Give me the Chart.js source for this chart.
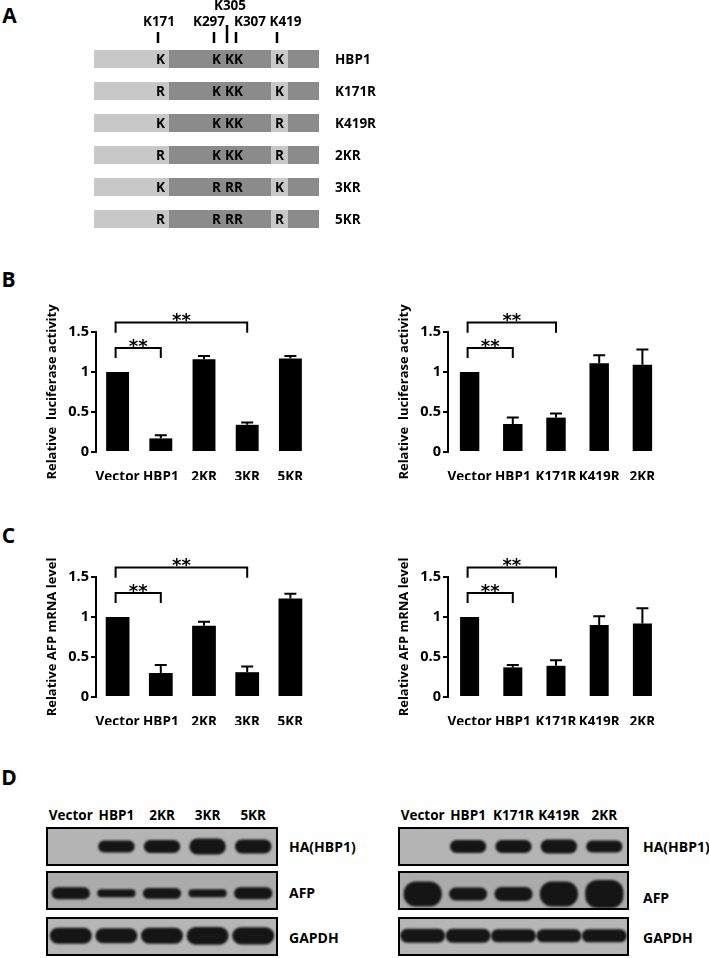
<!DOCTYPE html>
<html>
<head>
<meta charset="utf-8">
<script src="https://cdn.jsdelivr.net/npm/chart.js@4.4.1/dist/chart.umd.min.js"></script>
<style>
body { margin:0; background:#fff; font-family: "Open Sans", "Liberation Sans", sans-serif; font-weight:bold; color:#000; }
#page { position:relative; width:709px; height:958px; overflow:hidden; }
#page canvas, .t, .box { position:absolute; }
.t { white-space:nowrap; transform:translate(-50%,-50%); line-height:1; font-size:14px; }
.t.l { transform:translate(0,-50%); }
.panel { font-size:21px; }
.box { border:2px solid #000; box-sizing:border-box; }
</style>
</head>
<body>
<div id="page"></div>
<script>
// SCHEMATIC DATA (panel A)

const constructs = ["HBP1", "K171R", "K419R", "2KR", "3KR", "5KR"];
const sites = ["K171", "K297", "K305", "K307", "K419"];
const sitePos = [64, 120, 133, 142, 183];
const siteRow = [0, 0, 1, 0, 0];
const residues = [
  ["K", "K", "K", "K", "K"],
  ["R", "K", "K", "K", "K"],
  ["K", "K", "K", "K", "R"],
  ["R", "K", "K", "K", "R"],
  ["K", "R", "R", "R", "K"],
  ["R", "R", "R", "R", "R"]
];
const domainEdges = [0, 75, 177, 194, 225];

// BAR DATA (panels B, C)

const groupsKR = ["Vector", "HBP1", "2KR", "3KR", "5KR"];
const groupsSingle = ["Vector", "HBP1", "K171R", "K419R", "2KR"];

const lucMeanKR = [1.00, 0.17, 1.16, 0.34, 1.17];
const lucErrKR = [0, 0.04, 0.04, 0.03, 0.03];
const lucMeanSingle = [1.00, 0.35, 0.43, 1.11, 1.09];
const lucErrSingle = [0, 0.08, 0.05, 0.10, 0.19];

const afpMeanKR = [1.00, 0.30, 0.89, 0.31, 1.23];
const afpErrKR = [0, 0.10, 0.05, 0.07, 0.06];
const afpMeanSingle = [1.00, 0.37, 0.39, 0.90, 0.92];
const afpErrSingle = [0, 0.03, 0.07, 0.11, 0.19];

const yTicks = [0, 0.5, 1, 1.5];

// [from, to, bracket top, leg end]
const sigKR = [[0, 1, 1.30, 1.175], [0, 3, 1.62, 1.49]];
const sigSingle = [[0, 1, 1.30, 1.175], [0, 2, 1.62, 1.49]];

// BLOT DATA (panel D) - band thickness as fraction of strip height

const haKR = [0, 0.34, 0.37, 0.46, 0.40];
const afpKR = [0.34, 0.23, 0.31, 0.23, 0.34];
const gapdhKR = [0.46, 0.43, 0.46, 0.51, 0.49];
const haSingle = [0, 0.37, 0.37, 0.40, 0.34];
const afpSingle = [0.72, 0.37, 0.40, 0.72, 0.80];
const gapdhSingle = [0.40, 0.40, 0.37, 0.37, 0.37];

const page = document.getElementById("page");
const FONT = "'Open Sans', 'Liberation Sans', sans-serif";

function place(el, left, top, w, h) {
  el.style.left = left + "px";
  el.style.top = top + "px";
  if (w) { el.style.width = w + "px"; }
  if (h) { el.style.height = h + "px"; }
  return el;
}

function makeCanvas(parent, left, top, w, h) {
  const cv = document.createElement("canvas");
  cv.width = w;
  cv.height = h;
  place(cv, left, top);
  parent.appendChild(cv);
  return cv;
}

function text(str, x, y, cls, size) {
  const d = document.createElement("div");
  d.className = "t" + (cls ? " " + cls : "");
  d.textContent = str;
  if (size) { d.style.fontSize = size + "px"; }
  place(d, x, y);
  page.appendChild(d);
}

// PANEL LETTERS

text("A", 9.5, 14.5, "panel");
text("B", 8.5, 278.5, "panel");
text("C", 8.5, 535, "panel");
text("D", 9, 776.5, "panel");


// PANEL A SCHEMATIC

const labelNudge = [1, -5, 3, 14, 8.5];

const schemePlugin = {
  id: "scheme",
  afterDatasetsDraw(chart) {
    const ctx = chart.ctx;
    const xs = chart.scales.x;
    const ys = chart.scales.y;
    const top = chart.chartArea.top;
    ctx.save();
    ctx.fillStyle = "#000";
    ctx.strokeStyle = "#000";
    ctx.lineWidth = 2.5;
    ctx.textAlign = "center";
    ctx.textBaseline = "middle";
    ctx.font = "bold 13.5px " + FONT;

    sites.forEach((s, i) => {
      const x = xs.getPixelForValue(sitePos[i]);
      ctx.beginPath();
      ctx.moveTo(x, top);
      ctx.lineTo(x, top - 11 - siteRow[i] * 7);
      ctx.stroke();
      ctx.fillText(s, x + labelNudge[i], top - 21 - siteRow[i] * 16);
    });

    constructs.forEach((c, r) => {
      const y = ys.getPixelForValue(r);
      residues[r].forEach((res, i) => {
        ctx.textAlign = "center";
        ctx.fillText(res, xs.getPixelForValue(sitePos[i] + 2.5), y + 1);
      });
      ctx.textAlign = "left";
      ctx.fillText(c, chart.chartArea.right + 16, y + 1);
    });
    ctx.restore();
  }
};

const segColors = ["#c8c8c8", "#8b8b8b", "#c8c8c8", "#8b8b8b"];

new Chart(makeCanvas(page, 80, 0, 300, 236), {
  type: "bar",
  data: {
    labels: constructs,
    datasets: segColors.map((col, k) => ({
      data: constructs.map(() => [domainEdges[k], domainEdges[k + 1]]),
      backgroundColor: col,
      barPercentage: 0.5625,
      categoryPercentage: 1,
      grouped: false
    }))
  },
  options: {
    indexAxis: "y",
    responsive: false,
    animation: false,
    layout: { padding: { left: 14, right: 61, top: 43, bottom: 1 } },
    plugins: { legend: { display: false }, tooltip: { enabled: false } },
    scales: {
      x: { display: false, min: 0, max: 225 },
      y: { display: false }
    }
  },
  plugins: [schemePlugin]
});


// BAR CHARTS (panels B, C)

function barChart(left, top, labels, means, errs, sig, title, barPct) {

  const extras = {
    id: "extras",
    afterDatasetsDraw(chart) {
      const ctx = chart.ctx;
      const xs = chart.scales.x;
      const ys = chart.scales.y;
      const bars = chart.getDatasetMeta(0).data;
      ctx.save();
      ctx.strokeStyle = "#000";
      ctx.fillStyle = "#000";
      ctx.lineWidth = 2;

      // error bars (upper only)
      bars.forEach((b, i) => {
        if (!errs[i]) return;
        const yt = ys.getPixelForValue(means[i] + errs[i]);
        ctx.beginPath();
        ctx.moveTo(b.x, b.y);
        ctx.lineTo(b.x, yt);
        ctx.moveTo(b.x - 6, yt);
        ctx.lineTo(b.x + 6, yt);
        ctx.stroke();
      });

      // significance brackets
      ctx.textAlign = "center";
      ctx.textBaseline = "alphabetic";
      ctx.font = "bold 18px DejaVu Sans";
      sig.forEach(s => {
        const xa = xs.getPixelForValue(s[0]) - 2;
        const xb = xs.getPixelForValue(s[1]);
        const yt = ys.getPixelForValue(s[2]);
        const yl = ys.getPixelForValue(s[3]);
        ctx.beginPath();
        ctx.moveTo(xa, yl);
        ctx.lineTo(xa, yt);
        ctx.lineTo(xb, yt);
        ctx.lineTo(xb, yl);
        ctx.stroke();
        ctx.fillText("**", (xa + xb) / 2, ys.getPixelForValue(s[2] + 0.075) + 9.5);
      });
      ctx.restore();
    }
  };

  new Chart(makeCanvas(page, left, top, 280, 180), {
    type: "bar",
    data: {
      labels: labels,
      datasets: [{
        data: means,
        backgroundColor: "#000",
        barPercentage: barPct,
        categoryPercentage: 1
      }]
    },
    options: {
      responsive: false,
      animation: false,
      layout: { padding: { top: 32, right: 8, left: 0, bottom: 0 } },
      plugins: { legend: { display: false }, tooltip: { enabled: false } },
      scales: {
        x: {
          grid: { display: false },
          border: { display: false },
          ticks: {
            color: "#000",
            font: { family: FONT, weight: "bold", size: 13.5 },
            padding: 9,
            autoSkip: false,
            maxRotation: 0,
            minRotation: 0
          },
          afterFit: s => { s.height = 28; }
        },
        y: {
          min: 0,
          max: 1.5,
          afterBuildTicks: s => { s.ticks = yTicks.map(v => ({ value: v })); },
          border: { display: true, color: "#000", width: 2 },
          grid: { drawOnChartArea: false, color: "#000", lineWidth: 2, tickLength: 5 },
          ticks: {
            color: "#000",
            font: { family: FONT, weight: "bold", size: 14.5 },
            padding: 2,
            callback: v => String(v)
          },
          title: {
            display: true,
            text: title,
            color: "#000",
            font: { family: FONT, weight: "bold", size: 13 },
            padding: { top: 4, bottom: 0 }
          },
          afterFit: s => { s.width = 56; }
        }
      }
    },
    plugins: [extras]
  });
}

barChart(40, 300, groupsKR, lucMeanKR, lucErrKR, sigKR, "Relative  luciferase activity", 0.53);
barChart(392, 300, groupsSingle, lucMeanSingle, lucErrSingle, sigSingle, "Relative  luciferase activity", 0.45);
barChart(40, 545, groupsKR, afpMeanKR, afpErrKR, sigKR, "Relative AFP mRNA level", 0.55);
barChart(392, 545, groupsSingle, afpMeanSingle, afpErrSingle, sigSingle, "Relative AFP mRNA level", 0.44);


// WESTERN BLOTS (panel D)

function strip(left, top, width, bands, center, widthPct, bg) {
  const box = document.createElement("div");
  box.className = "box";
  place(box, left, top, width, 39);
  page.appendChild(box);
  const cv = makeCanvas(box, 0, 0, width - 4, 35);

  const look = {
    id: "look",
    beforeDraw(chart) {
      chart.ctx.save();
      chart.ctx.fillStyle = bg;
      chart.ctx.fillRect(0, 0, chart.width, chart.height);
      chart.ctx.restore();
    },
    beforeDatasetsDraw(chart) {
      chart.ctx.save();
      chart.ctx.filter = "blur(1.3px)";
    },
    afterDatasetsDraw(chart) {
      chart.ctx.restore();
    }
  };

  new Chart(cv, {
    type: "bar",
    data: {
      labels: bands.map((b, i) => "lane" + i),
      datasets: [{
        data: bands.map(t => t > 0 ? [center - t / 2, center + t / 2] : null),
        backgroundColor: "#151515",
        borderRadius: 12,
        borderSkipped: false,
        barPercentage: widthPct,
        categoryPercentage: 1
      }]
    },
    options: {
      responsive: false,
      animation: false,
      layout: { padding: 0 },
      plugins: { legend: { display: false }, tooltip: { enabled: false } },
      scales: {
        x: { display: false },
        y: { display: false, min: 0, max: 1 }
      }
    },
    plugins: [look]
  });
}

function blot(left, width, lanes, ha, afp, gapdh, afpCenter, gapdhPct, labelX, afpLabelY) {
  const lw = (width - 4) / lanes.length;
  lanes.forEach((l, i) => text(l, left + 2 + (i + 0.5) * lw, 815.5, "", 13.5));
  strip(left, 827, width, ha, 0.5, 0.8, "#b4b4b4");
  strip(left, 871, width, afp, afpCenter, 0.84, "#ababab");
  strip(left, 917, width, gapdh, 0.52, gapdhPct, "#b6b6b6");
  text("HA(HBP1)", labelX, 846.7, "l");
  text("AFP", labelX, afpLabelY, "l");
  text("GAPDH", labelX, 938, "l");
}

blot(46, 232, groupsKR, haKR, afpKR, gapdhKR, 0.42, 0.92, 289, 893);
blot(398, 231, groupsSingle, haSingle, afpSingle, gapdhSingle, 0.40, 0.99, 643, 898);
</script>
</body>
</html>
